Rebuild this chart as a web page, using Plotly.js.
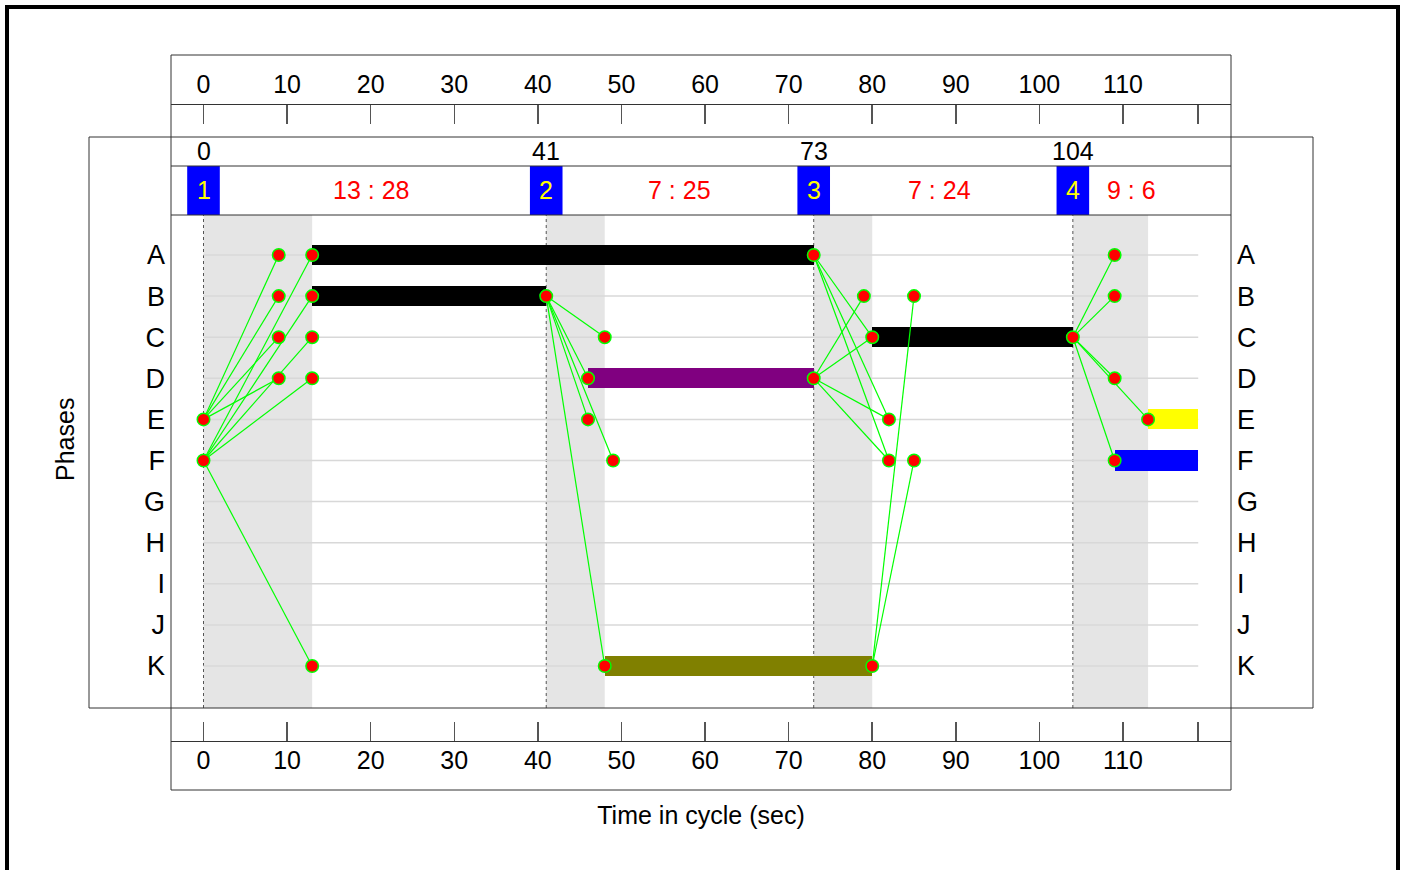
<!DOCTYPE html>
<html><head><meta charset="utf-8">
<script src="https://cdn.plot.ly/plotly-3.0.1.min.js"></script>
<style>html,body{margin:0;padding:0;background:#fff;} #chart{width:1405px;height:870px;}</style>
</head><body><div id="chart"></div>
<script>
// ---------- data ----------
const phaseNames = ['A','B','C','D','E','F','G','H','I','J','K'];
const cycleLength = 119;
const ringPhaseIds = ['1','2','3','4'];
const ringPhaseStarts = [0, 41, 73, 104];
const ringShade = [13, 7, 7, 9];
const ringRest = [28, 25, 24, 6];
const timeTicks = [0,10,20,30,40,50,60,70,80,90,100,110,119];
const timeTickLabels = ['0','10','20','30','40','50','60','70','80','90','100','110',''];

const barPhase = ['A','B','D','K','C','F','E'];
const barStart = [13, 13, 46, 48, 80, 109, 113];
const barEnd   = [73, 41, 73, 80, 104, 119, 119];

const linkFromPhase = ['E','E','E','E','F','F','F','F','F','B','B','B','B','B','A','A','A','D','D','D','D','K','K','C','C','C','C','C'];
const linkFromTime  = [0,0,0,0,0,0,0,0,0,41,41,41,41,41,73,73,73,73,73,73,73,80,80,104,104,104,104,104];
const linkToPhase   = ['A','B','C','D','A','B','C','D','K','C','D','E','F','K','C','E','F','B','C','E','F','B','F','A','B','D','E','F'];
const linkToTime    = [9,9,9,9,13,13,13,13,13,48,46,46,49,48,80,82,82,79,80,82,82,85,85,109,109,109,113,109];

// ---------- styles ----------
const barColorByPhase = {A:'#000000', B:'#000000', C:'#000000', D:'#800080', K:'#808000', E:'#ffff00', F:'#0000ff'};
const FONT = 'Liberation Sans, Arial, sans-serif';
const W = 1405, H = 870;
const px = v => v / W;
const py = v => 1 - v / H;
const rowIdx = p => phaseNames.indexOf(p);

// ---------- traces ----------
const barTrace = {
  type: 'bar', orientation: 'h',
  y: barPhase.map(rowIdx),
  x: barStart.map((s, i) => barEnd[i] - s),
  base: barStart,
  width: 0.49,
  marker: {color: barPhase.map(p => barColorByPhase[p]), line: {width: 0}},
  hoverinfo: 'skip', showlegend: false
};

const lx = [], ly = [];
linkFromPhase.forEach((p, i) => {
  lx.push(linkFromTime[i], linkToTime[i], null);
  ly.push(rowIdx(p), rowIdx(linkToPhase[i]), null);
});
const linkTrace = {
  type: 'scatter', mode: 'lines', x: lx, y: ly,
  line: {color: '#00ff00', width: 1.2}, hoverinfo: 'skip', showlegend: false
};

const seen = new Set(), dx = [], dy = [];
linkFromPhase.forEach((p, i) => {
  [[linkFromTime[i], p], [linkToTime[i], linkToPhase[i]]].forEach(([t, ph]) => {
    const k = t + ph;
    if (!seen.has(k)) { seen.add(k); dx.push(t); dy.push(rowIdx(ph)); }
  });
});
const dotTrace = {
  type: 'scatter', mode: 'markers', x: dx, y: dy,
  marker: {color: '#ff0000', size: 12.5, line: {color: '#00ff00', width: 1.5}},
  hoverinfo: 'skip', showlegend: false
};
const dummyTop = {type: 'scatter', x: [null], y: [null], xaxis: 'x2', yaxis: 'y', showlegend: false, hoverinfo: 'skip'};
const dummyRight = {type: 'scatter', x: [null], y: [null], xaxis: 'x', yaxis: 'y2', showlegend: false, hoverinfo: 'skip'};

// ---------- geometry ----------
const xRange = [-3.888, 122.92];
const yRange = [11.022, -0.973];
const yDomain = [py(708), py(215)];
const lineCol = '#333333';

const shapes = [];
// green-interval shading
ringPhaseStarts.forEach((s, i) => {
  shapes.push({type: 'rect', layer: 'below', xref: 'x', yref: 'paper', x0: s, x1: s + ringShade[i],
    y0: py(708), y1: py(215), fillcolor: '#e5e5e5', line: {width: 0}});
});
// row grid lines
phaseNames.forEach((p, i) => {
  shapes.push({type: 'line', layer: 'below', xref: 'x', yref: 'y', x0: 0, x1: cycleLength, y0: i, y1: i,
    line: {color: '#d8d8d8', width: 1.5}});
});
// phase start dotted lines
ringPhaseStarts.forEach(s => {
  shapes.push({type: 'line', layer: 'below', xref: 'x', yref: 'paper', x0: s, x1: s, y0: py(708), y1: py(215),
    line: {color: '#555555', width: 1, dash: 'dot'}});
});
// phase blocks
ringPhaseStarts.forEach(s => {
  shapes.push({type: 'rect', xref: 'x', yref: 'paper', x0: s - 1.95, x1: s + 1.95, y0: py(215), y1: py(166),
    fillcolor: '#0000ff', line: {width: 0}});
});
// frames
const pline = (x0, y0, x1, y1, w, c) => shapes.push({type: 'line', xref: 'paper', yref: 'paper',
  x0: px(x0), y0: py(y0), x1: px(x1), y1: py(y1), line: {color: c || lineCol, width: w || 1}});
shapes.push({type: 'rect', xref: 'paper', yref: 'paper', x0: px(7), x1: px(1398), y0: py(7), y1: py(890),
  line: {color: '#000', width: 4}});
shapes.push({type: 'rect', xref: 'paper', yref: 'paper', x0: px(89), x1: px(1313), y0: py(137), y1: py(708),
  line: {color: lineCol, width: 1}});
pline(171, 55, 1231, 55);
pline(171, 55, 171, 790);
pline(1231, 55, 1231, 790);
pline(171, 790, 1231, 790);
pline(171, 166, 1231, 166);
pline(171, 215, 1231, 215);

// ---------- annotations ----------
const annotations = [];
ringPhaseStarts.forEach((s, i) => {
  annotations.push({xref: 'x', yref: 'paper', x: s, y: py(151), text: String(s), showarrow: false,
    font: {family: FONT, size: 25, color: '#000'}, xanchor: 'center', yanchor: 'middle'});
  annotations.push({xref: 'x', yref: 'paper', x: s, y: py(190), text: ringPhaseIds[i], showarrow: false,
    font: {family: FONT, size: 25, color: '#ffff00'}, xanchor: 'center', yanchor: 'middle'});
  annotations.push({xref: 'x', yref: 'paper', x: s + Math.floor((ringShade[i] + ringRest[i]) / 2), y: py(190),
    text: ringShade[i] + ' : ' + ringRest[i], showarrow: false,
    font: {family: FONT, size: 25, color: '#ff0000'}, xanchor: 'center', yanchor: 'middle'});
});
annotations.push({xref: 'paper', yref: 'paper', x: px(65), y: py(440), text: 'Phases', textangle: -90,
  showarrow: false, font: {family: FONT, size: 25, color: '#000'}, xanchor: 'center', yanchor: 'middle'});

// ---------- layout ----------
const tickAxisCommon = {
  range: xRange, tickmode: 'array', tickvals: timeTicks, ticktext: timeTickLabels,
  ticks: 'inside', ticklen: 19, tickwidth: 1.5, tickcolor: '#555',
  showline: true, linecolor: lineCol, linewidth: 1, showgrid: false, zeroline: false,
  tickfont: {family: FONT, size: 25, color: '#000'}, fixedrange: true
};
const layout = {
  width: W, height: H, autosize: false,
  margin: {l: 0, r: 0, t: 0, b: 0, pad: 0},
  paper_bgcolor: '#fff', plot_bgcolor: 'rgba(0,0,0,0)',
  font: {family: FONT, color: '#000'},
  showlegend: false,
  xaxis: Object.assign({}, tickAxisCommon, {
    domain: [px(171), px(1231)], anchor: 'free', position: py(741), side: 'bottom',
    ticklabelstandoff: -3,
    title: {text: 'Time in cycle (sec)', font: {family: FONT, size: 25, color: '#000'}, standoff: 33}
  }),
  xaxis2: Object.assign({}, tickAxisCommon, {
    overlaying: 'x', anchor: 'free', position: py(104), side: 'top', ticklabelstandoff: 1
  }),
  yaxis: {
    domain: yDomain, range: yRange, tickmode: 'array', tickvals: phaseNames.map((p, i) => i), ticktext: phaseNames,
    ticks: '', showgrid: false, zeroline: false, showline: false, ticklabelstandoff: 5,
    tickfont: {family: FONT, size: 27, color: '#000'}, fixedrange: true
  },
  yaxis2: {
    overlaying: 'y', side: 'right', anchor: 'x', range: yRange, tickmode: 'array',
    tickvals: phaseNames.map((p, i) => i), ticktext: phaseNames,
    ticks: '', showgrid: false, zeroline: false, showline: false, ticklabelstandoff: 5,
    tickfont: {family: FONT, size: 27, color: '#000'}, fixedrange: true
  },
  bargap: 0,
  shapes: shapes,
  annotations: annotations
};

Plotly.newPlot('chart', [barTrace, linkTrace, dotTrace, dummyTop, dummyRight], layout, {staticPlot: true, displayModeBar: false});
</script>
</body></html>
